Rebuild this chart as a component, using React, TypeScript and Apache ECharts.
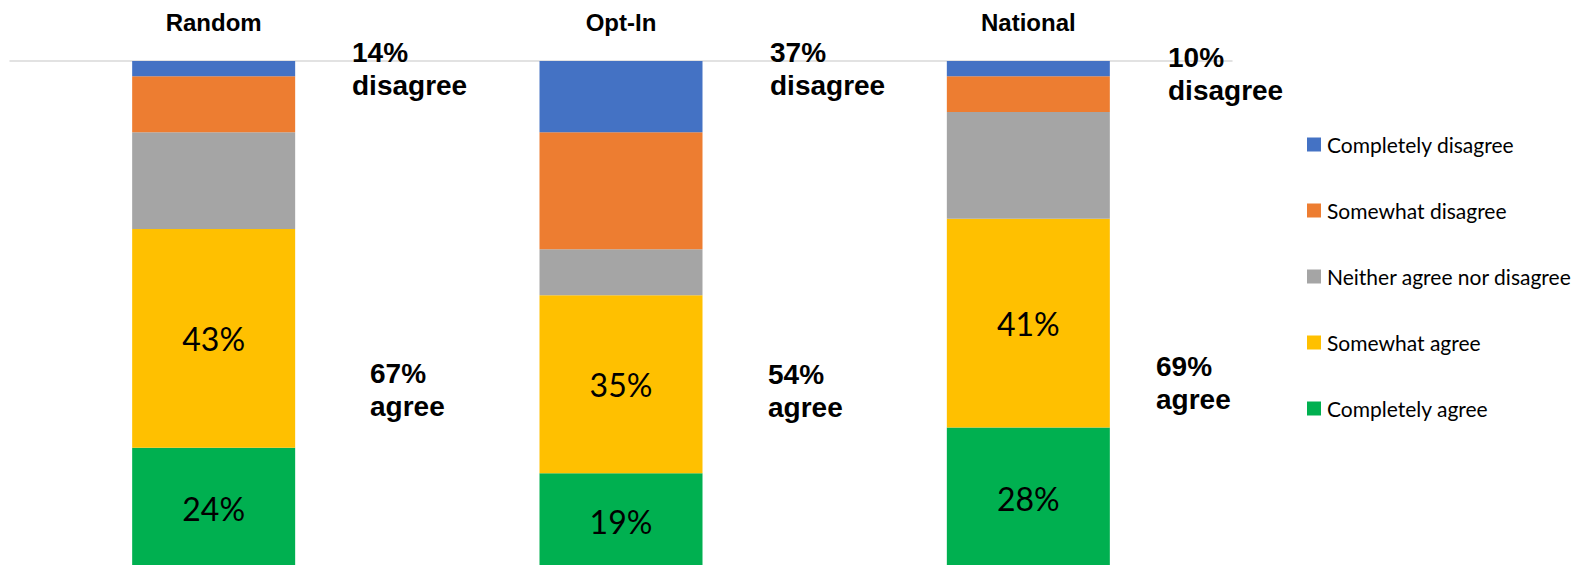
import React, { useEffect, useRef } from "react";
import * as echarts from "echarts";

const categories = ["Random", "Opt-In", "National"];

const completelyAgree = [24, 19, 28];
const somewhatAgree = [43, 35, 41];
const neitherAgreeNorDisagree = [19, 9, 21];
const somewhatDisagree = [11, 23, 7];
const completelyDisagree = [3, 14, 3];

const seriesNames = [
  "Completely agree",
  "Somewhat agree",
  "Neither agree nor disagree",
  "Somewhat disagree",
  "Completely disagree",
];
const seriesColors = ["#00B050", "#FFC000", "#A5A5A5", "#ED7D31", "#4472C4"];
const labelledSeries = [true, true, false, false, false];

const legendOrder = [
  "Completely disagree",
  "Somewhat disagree",
  "Neither agree nor disagree",
  "Somewhat agree",
  "Completely agree",
];

// annotation anchor positions (layout only)
const disagreeNotePos = [
  [352, 36],
  [770, 36],
  [1168, 41],
];
const agreeNotePos = [
  [370, 357],
  [768, 358],
  [1156, 350],
];

export default function App() {
  const ref = useRef<HTMLDivElement>(null);

  useEffect(() => {
    document.body.style.margin = "0";
    if (!ref.current) return;
    const chart = echarts.init(ref.current, null, { renderer: "svg" });

    const values = [
      completelyAgree,
      somewhatAgree,
      neitherAgreeNorDisagree,
      somewhatDisagree,
      completelyDisagree,
    ];

    const disagreeTotals = categories.map(
      (_, i) => completelyDisagree[i] + somewhatDisagree[i]
    );
    const agreeTotals = categories.map(
      (_, i) => completelyAgree[i] + somewhatAgree[i]
    );

    const noteStyle = {
      fontSize: 28,
      fontWeight: "bold",
      fontFamily: "Liberation Sans, Arial, sans-serif",
      lineHeight: 33,
      fill: "#000000",
      verticalAlign: "top",
      align: "left",
    };

    const graphics: any[] = [];
    categories.forEach((_, i) => {
      graphics.push({
        type: "text",
        x: disagreeNotePos[i][0],
        y: disagreeNotePos[i][1],
        z: 100,
        style: { ...noteStyle, text: `${disagreeTotals[i]}%\ndisagree` },
      });
      graphics.push({
        type: "text",
        x: agreeNotePos[i][0],
        y: agreeNotePos[i][1],
        z: 100,
        style: { ...noteStyle, text: `${agreeTotals[i]}%\nagree` },
      });
    });

    chart.setOption({
      animation: false,
      backgroundColor: "#ffffff",
      grid: {
        left: 10,
        top: 61,
        width: 1222,
        height: 509,
        containLabel: false,
        outerBoundsMode: "none",
      },
      legend: {
        orient: "vertical",
        left: 1307,
        top: 134,
        padding: 0,
        icon: "rect",
        itemWidth: 14,
        itemHeight: 14,
        itemGap: 45,
        selectedMode: false,
        data: legendOrder,
        textStyle: {
          fontFamily: "Lato, sans-serif",
          fontSize: 21,
          lineHeight: 21,
          color: "#000000",
          padding: [0, 0, 0, 1],
        },
      },
      xAxis: {
        type: "category",
        data: categories,
        position: "top",
        axisLine: {
          show: true,
          onZero: false,
          lineStyle: { color: "#D9D9D9", width: 1.5 },
        },
        axisTick: { show: false },
        axisLabel: {
          fontSize: 24,
          fontWeight: "bold",
          fontFamily: "Liberation Sans, Arial, sans-serif",
          color: "#000000",
          margin: 27,
        },
        splitLine: { show: false },
      },
      yAxis: {
        type: "value",
        min: 0,
        max: 100,
        show: false,
        splitLine: { show: false },
      },
      series: seriesNames.map((name, s) => ({
        name,
        type: "bar",
        stack: "total",
        barWidth: 163,
        data: values[s],
        itemStyle: { color: seriesColors[s] },
        label: {
          show: labelledSeries[s],
          position: "inside",
          formatter: "{c}%",
          fontFamily: "Lato, sans-serif",
          fontSize: 32,
          color: "#000000",
        },
      })),
      graphic: graphics,
    });

    return () => chart.dispose();
  }, []);

  return (
    <div
      ref={ref}
      style={{ position: "fixed", left: 0, top: 0, width: 1589, height: 565 }}
    />
  );
}
